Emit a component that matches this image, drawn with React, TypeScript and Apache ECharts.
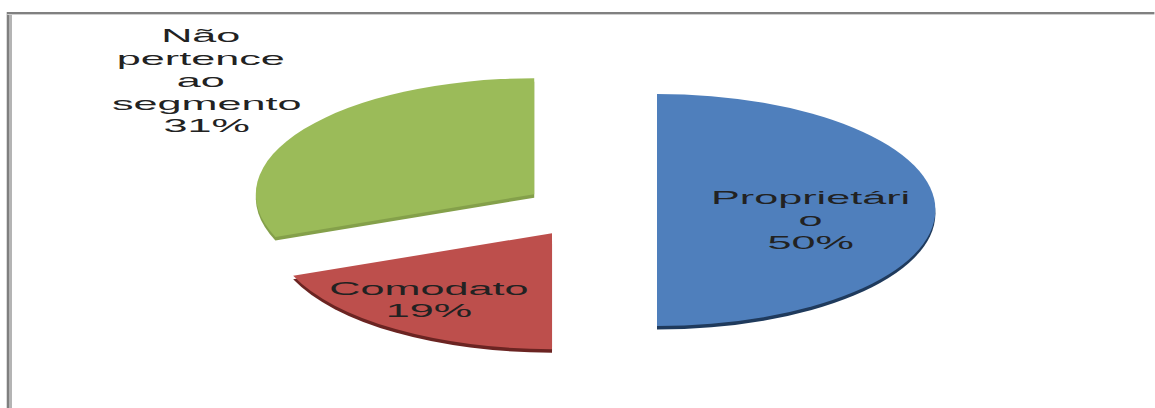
import React, { useEffect, useRef } from "react";
import * as echarts from "echarts";

const categories = ["Proprietário", "Comodato", "Não pertence ao segmento"];
const values = [50, 19, 31];
const faceColors = ["#4f7fbc", "#bd4f4c", "#9bbb59"];
const sideColors = ["#1f3a5c", "#6b2422", "#84a04a"];
const labelWidths = [95, 90, 82];
const labelShift: Record<number, [number, number]> = { 0: [3, 10], 1: [-17, 16], 2: [-86, -79] };

const SX = 2.4;
const W = 1155;
const H = 408;

export default function App() {
  const ref = useRef<HTMLDivElement>(null);
  useEffect(() => {
    if (!ref.current) return;
    const chart = echarts.init(ref.current, undefined, { renderer: "svg" });
    const cx = 245.75;
    const cy = 210;
    const r = 116;
    const face = categories.map((n, i) => ({
      name: n,
      value: values[i],
      selected: true,
      itemStyle: { color: faceColors[i] },
      label: { width: labelWidths[i] },
    }));
    const side = categories.map((n, i) => ({
      name: n,
      value: values[i],
      selected: true,
      itemStyle: { color: sideColors[i] },
    }));
    chart.setOption({
      animation: false,
      backgroundColor: "#ffffff",
      graphic: [
        { type: "line", shape: { x1: 3.4, y1: 12, x2: 3.4, y2: H }, style: { stroke: "#7f7f7f", lineWidth: 1.2 } },
        { type: "line", shape: { x1: 4.5, y1: 12, x2: 4.5, y2: H }, style: { stroke: "#b4b4b4", lineWidth: 1 } },
        { type: "line", shape: { x1: 3, y1: 13, x2: W / SX, y2: 13 }, style: { stroke: "#808080", lineWidth: 2 } },
        { type: "line", shape: { x1: 3, y1: 14.6, x2: W / SX, y2: 14.6 }, style: { stroke: "#cfcfcf", lineWidth: 1 } },
      ],
      series: [
        {
          type: "pie",
          silent: true,
          z: 1,
          center: [cx, cy + 3.5],
          radius: r,
          startAngle: 90,
          clockwise: true,
          selectedMode: "multiple",
          selectedOffset: 28,
          label: { show: false },
          labelLine: { show: false },
          select: { itemStyle: {} },
          data: side,
        },
        {
          type: "pie",
          silent: true,
          z: 2,
          center: [cx, cy],
          radius: r,
          startAngle: 90,
          clockwise: true,
          selectedMode: "multiple",
          selectedOffset: 28,
          select: { itemStyle: {} },
          label: {
            show: true,
            position: "inside",
            formatter: (p: any) => `${p.name}\n${p.value}%`,
            fontFamily: "Liberation Sans",
            fontSize: 18,
            lineHeight: 22.5,
            color: "#222222",
            overflow: "break",
            align: "center",
          },
          labelLine: { show: false },
          labelLayout: (p: any) => {
            const s = labelShift[p.dataIndex] || [0, 0];
            return { dx: s[0], dy: s[1] };
          },
          data: face,
        },
      ],
    });
    return () => chart.dispose();
  }, []);
  return (
    <div style={{ position: "absolute", left: 0, top: 0, width: W, height: H, overflow: "hidden", background: "#fff" }}>
      <div
        ref={ref}
        style={{ width: W / SX, height: H, transform: `scaleX(${SX})`, transformOrigin: "0 0" }}
      />
    </div>
  );
}
